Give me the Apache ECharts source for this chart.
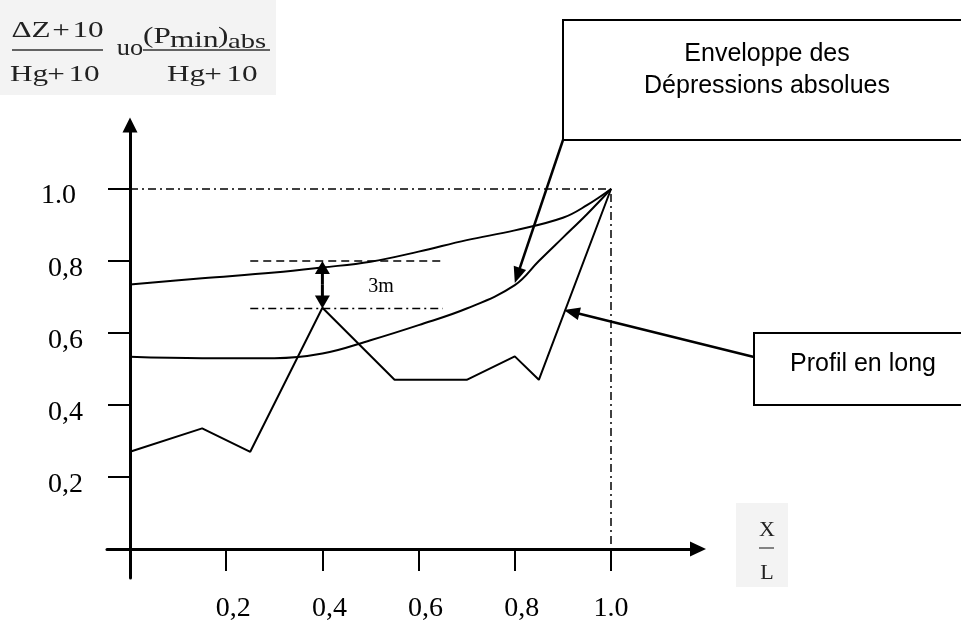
<!DOCTYPE html>
<html><head><meta charset="utf-8">
<script src="https://cdn.jsdelivr.net/npm/echarts@6/dist/echarts.min.js"></script>
<style>html,body{margin:0;padding:0;background:#fff}#c{width:961px;height:622px}</style>
</head><body><div id="c"></div>
<script>
// ---- data ----
const profilX = [0, 0.15, 0.25, 0.40, 0.55, 0.70, 0.80, 0.85, 1.00];
const profilY = [0.27, 0.335, 0.27, 0.67, 0.47, 0.47, 0.535, 0.47, 1.00];
const upperX = [0, 0.15, 0.30, 0.40, 0.50, 0.60, 0.70, 0.80, 0.90, 0.95, 1.00];
const upperY = [0.735, 0.752, 0.768, 0.782, 0.798, 0.826, 0.858, 0.885, 0.920, 0.955, 1.00];
const envX = [0, 0.15, 0.30, 0.40, 0.50, 0.60, 0.70, 0.80, 0.85, 0.90, 0.95, 1.00];
const envY = [0.534, 0.530, 0.530, 0.543, 0.580, 0.622, 0.668, 0.733, 0.800, 0.865, 0.930, 1.00];
const xTicks = [0.2, 0.4, 0.6, 0.8, 1.0];
const xTickLabels = ['0,2', '0,4', '0,6', '0,8', '1.0'];
const yTicks = [0.2, 0.4, 0.6, 0.8, 1.0];
const yTickLabels = ['0,2', '0,4', '0,6', '0,8', '1.0'];
const refPoint = [1.0, 1.0];
const gapX = 0.40, gapTop = 0.80, gapBottom = 0.668;
const guideFrom = 0.25, guideTo = 0.65;
const gapLabel = '3m';
const gapLabelPos = [0.522, 0.728];
const envPointer = [0.80, 0.739];
const profilPointer = [0.902, 0.664];
const envText = ['Enveloppe des', 'Dépressions absolues'];
const profilText = 'Profil en long';

// ---- chart ----
const chart = echarts.init(document.getElementById('c'), null, {renderer: 'canvas'});
const pairs = (xs, ys) => xs.map((x, i) => [x, ys[i]]);
const lab = (ticks, labels, v) => labels[ticks.findIndex(t => Math.abs(t - v) < 1e-6)];
const serif = '"Liberation Serif", "Times New Roman", serif';
const sans = '"Liberation Sans", Arial, sans-serif';

chart.setOption({
  animation: false,
  backgroundColor: '#fff',
  grid: {left: 107, right: 263, top: 125, bottom: 44, containLabel: false, outerBoundsMode: 'none'},
  xAxis: {
    type: 'value', min: -23 / 481, max: 568 / 481,
    splitLine: {show: false},
    axisLine: {onZero: true, symbol: ['none', 'triangle'], symbolSize: [15, 16], lineStyle: {color: '#000', width: 3}},
    axisTick: {customValues: xTicks, length: 22, lineStyle: {color: '#000', width: 2}},
    axisLabel: {
      customValues: xTicks, margin: 17,
      formatter: v => { const s = lab(xTicks, xTickLabels, v); return s === '1.0' ? '{b|' + s + '}' : '{a|' + s + '}'; },
      rich: {
        a: {fontFamily: serif, fontSize: 28, color: '#000', padding: [0, 0, 0, 14]},
        b: {fontFamily: serif, fontSize: 28, color: '#000'}
      }
    }
  },
  yAxis: {
    type: 'value', min: -29 / 360, max: 424 / 360,
    splitLine: {show: false},
    axisLine: {onZero: true, symbol: ['none', 'triangle'], symbolSize: [15, 15], lineStyle: {color: '#000', width: 3}},
    axisTick: {customValues: yTicks, length: 22, lineStyle: {color: '#000', width: 2}},
    axisLabel: {
      customValues: yTicks, margin: 24,
      formatter: v => { const s = lab(yTicks, yTickLabels, v); return s === '1.0' ? '{b|' + s + '}' : '{a|' + s + '}'; },
      rich: {
        a: {fontFamily: serif, fontSize: 28, color: '#000', padding: [16, 0, 0, 0]},
        b: {fontFamily: serif, fontSize: 28, color: '#000', padding: [14, 7, 0, 0]}
      }
    }
  },
  series: [
    {type: 'line', data: pairs(profilX, profilY), symbol: 'none', silent: true, z: 5,
     lineStyle: {color: '#000', width: 2}},
    {type: 'line', data: pairs(upperX, upperY), smooth: 0.4, symbol: 'none', silent: true,
     lineStyle: {color: '#000', width: 2}},
    {type: 'line', data: pairs(envX, envY), smooth: 0.4, symbol: 'none', silent: true,
     lineStyle: {color: '#000', width: 2}},
    {type: 'line', data: [[0, refPoint[1]], refPoint, [refPoint[0], 0]], symbol: 'none', silent: true,
     lineStyle: {color: '#000', width: 1.5, type: [8, 4, 2, 4]}},
    {type: 'line', data: [[guideFrom, gapTop], [guideTo, gapTop]], symbol: 'none', silent: true,
     lineStyle: {color: '#000', width: 1.5, type: [8, 5]}},
    {type: 'line', data: [[guideFrom, gapBottom], [guideTo, gapBottom]], symbol: 'none', silent: true,
     lineStyle: {color: '#000', width: 1.5, type: [8, 4, 2, 4]}}
  ]
});

// ---- annotations ----
const px = p => chart.convertToPixel({gridIndex: 0}, p);
function arrow(from, to, headLen, headHalf, width) {
  const dx = to[0] - from[0], dy = to[1] - from[1];
  const L = Math.hypot(dx, dy), ux = dx / L, uy = dy / L;
  const bx = to[0] - ux * headLen, by = to[1] - uy * headLen;
  const nx = -uy, ny = ux;
  return [
    {type: 'line', silent: true, shape: {x1: from[0], y1: from[1], x2: bx + ux, y2: by + uy}, style: {stroke: '#000', lineWidth: width}},
    {type: 'polygon', silent: true, shape: {points: [to, [bx + nx * headHalf, by + ny * headHalf], [bx - nx * headHalf, by - ny * headHalf]]}, style: {fill: '#000'}}
  ];
}
const txt = (text, x, y, size, family, align, color, sx) => ({
  type: 'text', silent: true, x: x, y: y, scaleX: sx || 1,
  style: {text: text, fontSize: size, fontFamily: family, fill: color || '#000', align: align || 'center', verticalAlign: 'middle'}
});
const hline = (x1, x2, y, w, c) => ({type: 'line', silent: true, shape: {x1: x1, y1: y, x2: x2, y2: y}, style: {stroke: c || '#000', lineWidth: w}});

const pTop = px([gapX, gapTop]), pBot = px([gapX, gapBottom]);
const pMid = [pTop[0], (pTop[1] + pBot[1]) / 2];
const pLab = px(gapLabelPos);
const pEnv = px(envPointer), pProf = px(profilPointer);

const fc = '#222', S = 1.3;
const g = [];
// formula background + formula
g.push({type: 'rect', silent: true, z: -1, shape: {x: 0, y: 0, width: 276, height: 95}, style: {fill: '#f3f3f3'}});
g.push(txt('ΔZ', 31, 31, 24, serif, 'center', fc, S));
g.push(txt('+', 61, 31, 24, serif, 'center', fc, S));
g.push(txt('10', 88, 31, 24, serif, 'center', fc, S));
g.push(hline(12, 103, 50, 1.3, '#333'));
g.push(txt('Hg', 29, 75, 24, serif, 'center', fc, S));
g.push(txt('+', 56, 75, 24, serif, 'center', fc, S));
g.push(txt('10', 84, 75, 24, serif, 'center', fc, S));
g.push(txt('uo', 130, 49, 24, serif, 'center', fc, 1.1));
g.push(txt('(P', 143, 37, 24, serif, 'left', fc, S));
g.push(txt('min', 170, 41, 24, serif, 'left', fc, S));
g.push(txt(')', 218, 37, 24, serif, 'left', fc, S));
g.push(txt('abs', 228, 42, 22, serif, 'left', fc, S));
g.push(hline(143, 270, 50, 1.3, '#333'));
g.push(txt('Hg', 186, 75, 24, serif, 'center', fc, S));
g.push(txt('+', 213, 75, 24, serif, 'center', fc, S));
g.push(txt('10', 242, 75, 24, serif, 'center', fc, S));
// X/L
g.push({type: 'rect', silent: true, z: -1, shape: {x: 736, y: 503, width: 52, height: 84}, style: {fill: '#f3f3f3'}});
g.push(txt('X', 767, 530, 22, serif, 'center', fc));
g.push(hline(759, 774, 548, 1.3, '#444'));
g.push(txt('L', 767, 573, 22, serif, 'center', fc));
// 3m arrow + label
g.push(...arrow(pMid, pTop, 13, 7.5, 3));
g.push(...arrow(pMid, pBot, 13, 7.5, 3));
g.push(txt(gapLabel, pLab[0], pLab[1], 20, serif, 'center'));
// boxes
g.push({type: 'rect', silent: true, shape: {x: 563, y: 20, width: 412, height: 120}, style: {fill: '#fff', stroke: '#000', lineWidth: 2}});
g.push(txt(envText[0], 767, 54, 25, sans, 'center'));
g.push(txt(envText[1], 767, 86, 25, sans, 'center'));
g.push({type: 'rect', silent: true, shape: {x: 754, y: 333, width: 220, height: 72}, style: {fill: '#fff', stroke: '#000', lineWidth: 2}});
g.push(txt(profilText, 863, 364, 25, sans, 'center'));
// pointers
g.push(...arrow([563, 140], pEnv, 16, 6.5, 2.5));
g.push(...arrow([754, 357], pProf, 16, 6.5, 2.5));

chart.setOption({graphic: {elements: g}});
</script>
</body></html>
